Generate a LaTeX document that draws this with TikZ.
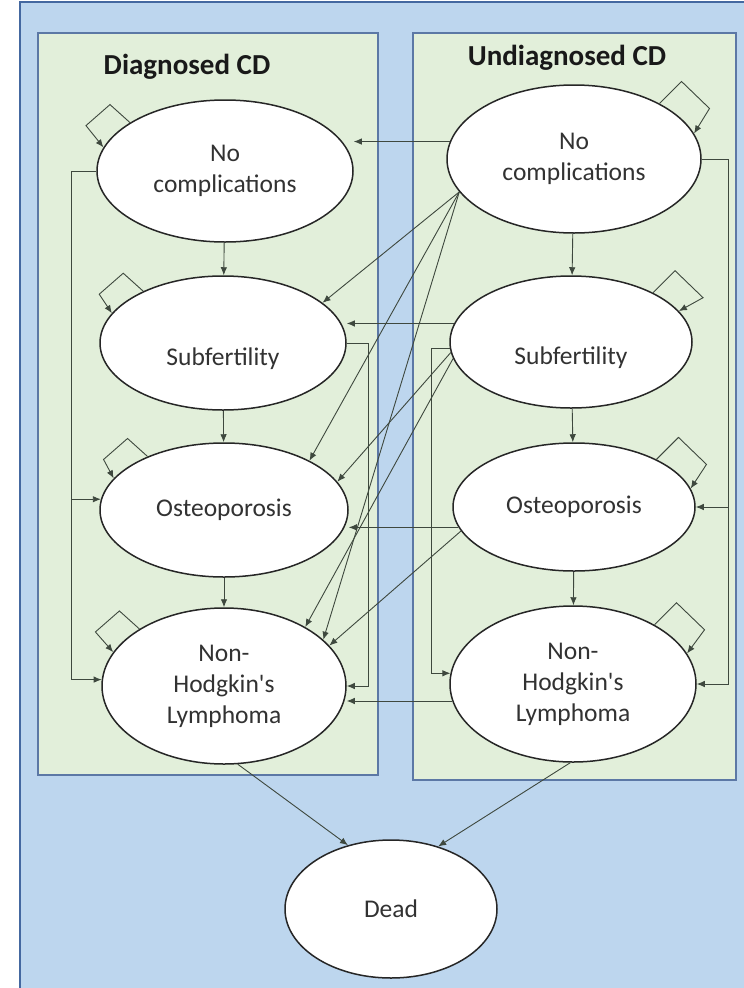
\documentclass[tikz,border=0pt]{standalone}
\usepackage{fontspec}
\setmainfont{Carlito}
\usetikzlibrary{arrows.meta, shapes.geometric}

\definecolor{skyback}{RGB}{189,214,238}
\definecolor{skyedge}{RGB}{68,104,160}
\definecolor{paleleaf}{RGB}{226,239,218}
\definecolor{leafedge}{RGB}{92,120,165}
\definecolor{inkline}{RGB}{62,72,62}
\definecolor{inktext}{RGB}{50,50,50}

\begin{document}
\begin{tikzpicture}[
    x=1pt, y=1pt,
    font=\fontsize{25.5}{31}\selectfont,
    state/.style={ellipse, draw=black!85, line width=1.5pt, fill=white, text=inktext, align=center, inner sep=0pt, minimum width=246pt, minimum height=134pt},
    droptext/.style={text height=50pt, text depth=5pt},
    flow/.style={-{Latex[length=8pt, width=6.5pt]}, draw=inkline, line width=0.9pt},
    panel/.style={draw=leafedge, line width=1.2pt, fill=paleleaf},
    heading/.style={font=\fontsize{29}{35}\selectfont\bfseries, text=black!90, anchor=base}
]

% Canvas
\useasboundingbox (0,0) rectangle (744,-988);
\draw[fill=skyback, draw=skyedge, line width=1.5pt] (20,-2) rectangle (760,-1000);

% Panels
\draw[panel] (38,-33) rectangle (378,-775);
\draw[panel] (413,-33) rectangle (736,-780);
\node[heading] (titleD) at (187,-74) {Diagnosed CD};
\node[heading] (titleU) at (567,-65) {Undiagnosed CD};

% States
\node[state, minimum width=256pt, minimum height=142pt] (ncD) at (225,-171) {No\\complications};
\node[state, droptext] (subD) at (223,-343) {Subfertility};
\node[state, minimum width=248pt] (ostD) at (224,-510) {Osteoporosis};
\node[state, minimum width=244pt, minimum height=156pt] (nhlD) at (224,-686) {Non-\\Hodgkin\textquotesingle s\\Lymphoma};

\node[state, minimum width=254pt, minimum height=148pt] (ncU) at (574,-159) {No\\complications};
\node[state, droptext, minimum width=242pt, minimum height=132pt] (subU) at (571,-342) {Subfertility};
\node[state, minimum width=242pt, minimum height=128pt] (ostU) at (574,-507) {Osteoporosis};
\node[state, minimum height=156pt] (nhlU) at (573,-684) {Non-\\Hodgkin\textquotesingle s\\Lymphoma};

\node[state, minimum width=212pt, minimum height=138pt] (dead) at (391,-909) {Dead};

% Progression
\foreach \a/\b in {ncD/subD, subD/ostD, ostD/nhlD, ncU/subU, subU/ostU, ostU/nhlU}
    \draw[flow] (\a) -- (\b);

% Staying in a state
\foreach \n/\s/\e in {ncD/153/169, subD/147/165, ostD/145/164, nhlD/146/163}
    \draw[flow] (\n.\s) -- ++(-20,18) -- ++(-24,-21) -- (\n.\e);
\foreach \n/\s/\e in {ncU/33/12, subU/31/16, ostU/30/9, nhlU/36/15}
    \draw[flow] (\n.\s) -- ++(22,22) -- ++(28,-27) -- (\n.\e);

% Diagnosis in the same state
\draw[flow] (ncU.172) -- (ncU.172 -| ncD.east);
\draw[flow] (subU.171) -- (subU.171 -| subD.east);
\draw[flow] (ostU.190) -- (ostU.190 -| ostD.east);
\draw[flow] (nhlU.188) -- (nhlU.188 -| nhlD.east);

% Diagnosis in a later state
\draw[flow] (ncU.196) -- (subD.22);
\draw[flow] (ncU.196) -- (ostD.30);
\draw[flow] (ncU.196) -- (nhlD.25);
\draw[flow] (subU.185) -- (ostD.14);
\draw[flow] (subU.188) -- (nhlD.36);
\draw[flow] (ostU.192) -- (nhlD.21);

% Skipping states
\draw[flow] (ncD.west) -- ++(-25,0) coordinate (skipD) |- (ostD.175);
\draw[flow] (skipD) |- (nhlD.177);
\draw[flow] (subD.east) -- ++(22,0) |- (nhlD.east);
\draw[flow] (ncU.east) -- ++(27,0) coordinate (skipU) |- (ostU.east);
\draw[flow] (skipU) |- (nhlU.east);
\draw[flow] (subU.183) -- ++(-18,0) |- (nhlU.175);

% Death
\draw[flow] (nhlD.280) -- (dead.124);
\draw[flow] (nhlU.268) -- (dead.53);

\end{tikzpicture}
\end{document}
